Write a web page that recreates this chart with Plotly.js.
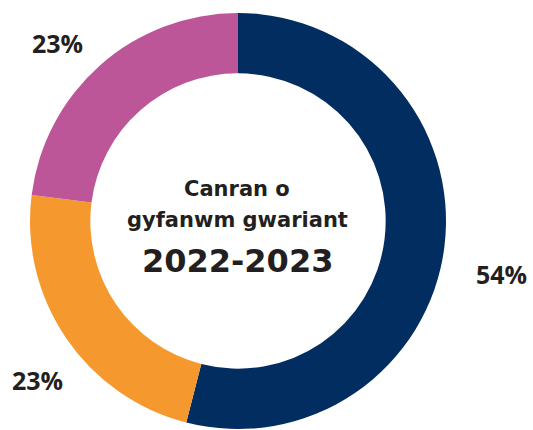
<!DOCTYPE html>
<html>
<head>
<meta charset="utf-8">
<script src="https://cdn.plot.ly/plotly-3.0.1.min.js"></script>
<style>html,body{margin:0;padding:0;background:#fff;}#chart{width:533px;height:430px;}</style>
</head>
<body>
<div id="chart"></div>
<script>
const categories = ["Categori A", "Categori B", "Categori C"];
const shares = [54, 23, 23];
const sliceLabels = ["54%", "23%", "23%"];
const colors = ["#022D61", "#F5992F", "#BD5599"];
const centerLines = ["Canran o", "gyfanwm gwariant", "2022-2023"];

const W = 533, H = 430;
const px = (x) => x / W;
const py = (y) => 1 - y / H;
const textColor = "#231F20";
const famLbl = "'Open Sans', 'Noto Sans', sans-serif";
const famCtr = "'DejaVu Sans', 'Open Sans', sans-serif";

const trace = {
  type: "pie",
  labels: categories,
  values: shares,
  sort: false,
  direction: "clockwise",
  rotation: 0,
  hole: 0.71,
  textinfo: "none",
  hoverinfo: "label+percent",
  marker: { colors: colors, line: { width: 0 } },
  domain: { x: [px(30), px(446)], y: [py(429), py(13)] },
  showlegend: false
};

const labelPos = [[501, 274], [57, 43], [37, 380]];
const annotations = sliceLabels.map((t, i) => ({
  text: t, x: px(labelPos[i][0]), y: py(labelPos[i][1]), xref: "paper", yref: "paper",
  xanchor: "center", yanchor: "middle", showarrow: false,
  font: { family: famLbl, size: 25, color: textColor, weight: 700 }
}));
const centerPos = [[237, 189, 21], [237, 220, 21], [237, 261, 32]];
centerLines.forEach((t, i) => {
  annotations.push({
    text: t, x: px(centerPos[i][0]), y: py(centerPos[i][1]), xref: "paper", yref: "paper",
    xanchor: "center", yanchor: "middle", showarrow: false,
    font: { family: famCtr, size: centerPos[i][2], color: textColor, weight: 700 }
  });
});

Plotly.newPlot("chart", [trace], {
  width: W, height: H,
  margin: { l: 0, r: 0, t: 0, b: 0 },
  paper_bgcolor: "#fff",
  annotations: annotations
}, { displayModeBar: false, staticPlot: true });
</script>
</body>
</html>
